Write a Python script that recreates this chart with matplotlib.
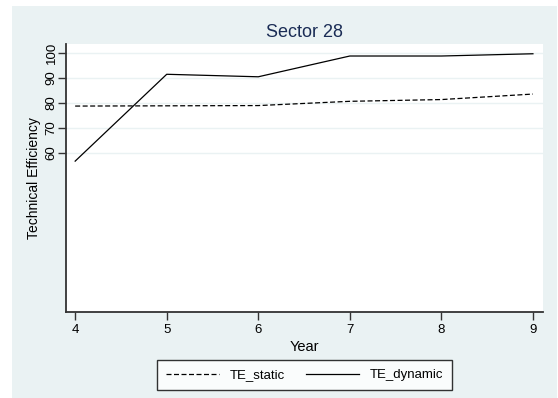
import matplotlib
matplotlib.use('Agg')
import matplotlib.pyplot as plt
from matplotlib.patches import Rectangle

plt.rcParams['font.family'] = ['Liberation Sans', 'DejaVu Sans']

years = [4, 5, 6, 7, 8, 9]
te_static = [78.7, 78.8, 78.9, 80.6, 81.3, 83.5]
te_dynamic = [56.7, 91.4, 90.4, 98.7, 98.7, 99.6]
yticks = [60, 70, 80, 90, 100]

bg = '#EAF2F3'
fig = plt.figure(figsize=(5.58, 3.98), dpi=100)
fig.patches.append(Rectangle((12 / 558, 0), 545 / 558, 392 / 398,
                             transform=fig.transFigure, facecolor=bg,
                             edgecolor='none', zorder=-10))

ax = fig.add_axes([66 / 558, 85.7 / 398, 477 / 558, 268.3 / 398])
ax.set_facecolor('white')
ax.plot(years, te_static, color='black', lw=0.9, ls=(0, (4, 2)), label='TE_static')
ax.plot(years, te_dynamic, color='black', lw=0.9, label='TE_dynamic')

ax.set_xlim(3.9, 9.11)
ax.set_ylim(-3.7, 103.5)
ax.set_xticks(years)
ax.set_yticks(yticks)
for y in yticks:
    ax.axhline(y, color=bg, lw=1, zorder=0)

for s in ['top', 'right']:
    ax.spines[s].set_visible(False)
for s in ['left', 'bottom']:
    ax.spines[s].set_linewidth(1.3)
    ax.spines[s].set_color('#333333')
ax.tick_params(direction='out', length=5.5, width=1, color='#333333', labelsize=9.5, pad=3)
ax.tick_params(axis='y', pad=0.5)
plt.setp(ax.get_yticklabels(), rotation=90, va='center')

ax.set_xlabel('Year', fontsize=10.5, labelpad=3)
ax.set_ylabel('Technical Efficiency', fontsize=10)
ax.yaxis.set_label_coords(-0.052, 0.5)
ax.set_title('Sector 28', fontsize=13, color='#1A2C55', pad=5)

leg = fig.legend(loc='center', bbox_to_anchor=(304.5 / 558, 23 / 398), ncol=2,
                 fontsize=9.5, frameon=True, fancybox=False, handlelength=4.0,
                 columnspacing=1.6, borderpad=0.7)
leg.get_frame().set_edgecolor('black')
leg.get_frame().set_linewidth(1)

fig.savefig('out.png', dpi=100)
